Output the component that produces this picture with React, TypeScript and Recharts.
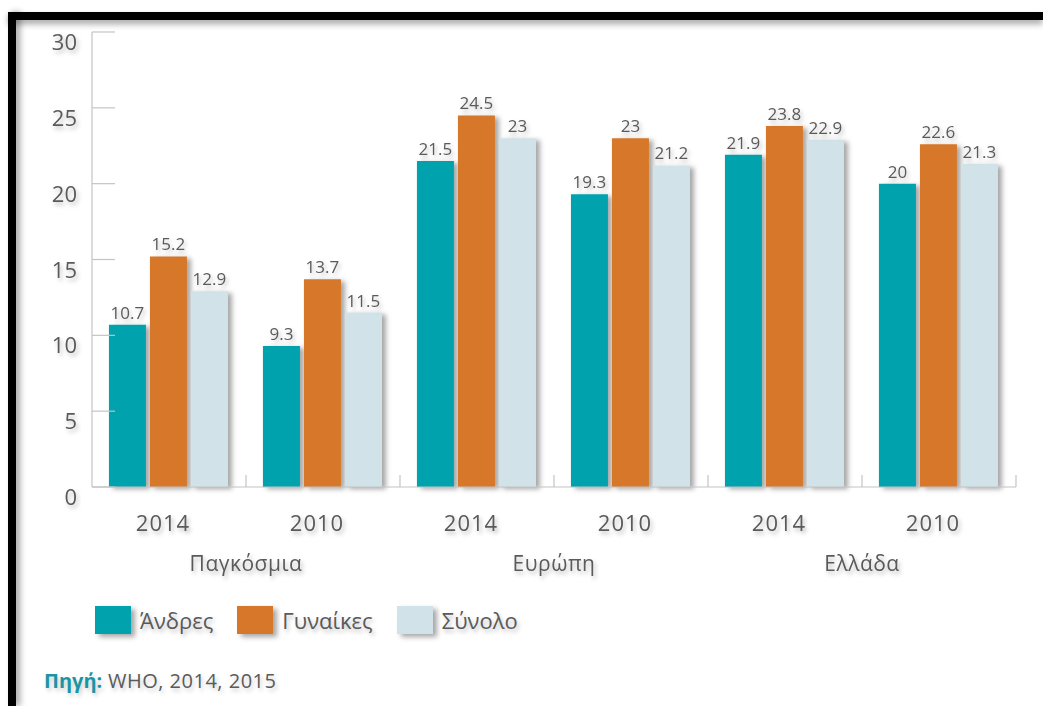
import React from 'react';
import { BarChart, Bar, XAxis, YAxis, LabelList } from 'recharts';

const years = ['2014', '2010', '2014', '2010', '2014', '2010'];
const regions = ['Παγκόσμια', 'Παγκόσμια', 'Ευρώπη', 'Ευρώπη', 'Ελλάδα', 'Ελλάδα'];
const men = [10.7, 9.3, 21.5, 19.3, 21.9, 20];
const women = [15.2, 13.7, 24.5, 23, 23.8, 22.6];
const total = [12.9, 11.5, 23, 21.2, 22.9, 21.3];
const yTicks = [0, 5, 10, 15, 20, 25, 30];

const seriesNames = ['Άνδρες', 'Γυναίκες', 'Σύνολο'];
const seriesColors = ['#00a2ae', '#d6772a', '#d1e3e8'];

const data = years.map((year, i) => ({
  key: i,
  year,
  region: regions[i],
  men: men[i],
  women: women[i],
  total: total[i],
}));

const FONT = '"Open Sans", "Noto Sans", sans-serif';
const TEXT = '#5a5a5a';
const AXIS = '#c4c4c4';

// chart geometry
const W = 1043;
const H = 600;
const M = { top: 32, right: 27, left: 0, bottom: 18 };
const Y_W = 92;
const HALF_BAND = (W - M.right - Y_W) / years.length / 2;

const YTick = (props: any) => {
  const { x, y, payload } = props;
  return (
    <g>
      <line x1={x} x2={x + 23} y1={y} y2={y} stroke={AXIS} strokeWidth={1.2} />
      <text x={x - 15} y={y + 9} textAnchor="end" dominantBaseline="central" fill={TEXT}
        fontSize={22} fontFamily={FONT} filter="url(#txtShadow)">
        {payload.value}
      </text>
    </g>
  );
};

const YearTick = (props: any) => {
  const { x, y, payload } = props;
  return (
    <g>
      <line x1={x + HALF_BAND} x2={x + HALF_BAND} y1={y} y2={y - 12} stroke={AXIS} strokeWidth={1.2} />
      <text x={x - 6} y={y + 35} textAnchor="middle" dominantBaseline="central" fill={TEXT}
        fontSize={22} fontFamily={FONT} letterSpacing={1} filter="url(#txtShadow)">
        {payload.value}
      </text>
    </g>
  );
};

const RegionTick = (props: any) => {
  const { x, y, payload } = props;
  return (
    <text x={x} y={y + 26} textAnchor="middle" dominantBaseline="central" fill={TEXT}
      fontSize={21} fontFamily={FONT} letterSpacing={0.5} filter="url(#txtShadow)">
      {payload.value}
    </text>
  );
};

export default function App() {
  const keys = ['men', 'women', 'total'];
  return (
    <div style={{ position: 'absolute', left: 0, top: 0, width: 1043, height: 706, background: '#fff', overflow: 'hidden', fontFamily: FONT }}>
      <svg width={0} height={0} style={{ position: 'absolute' }}>
        <defs>
          <filter id="barShadow" x="-20%" y="-10%" width="150%" height="130%">
            <feDropShadow dx={4} dy={2} stdDeviation={2.5} floodColor="#000" floodOpacity={0.35} />
          </filter>
          <filter id="txtShadow" x="-20%" y="-40%" width="150%" height="200%">
            <feDropShadow dx={2} dy={3} stdDeviation={2} floodColor="#000" floodOpacity={0.25} />
          </filter>
        </defs>
      </svg>

      {/* black frame */}
      <div style={{ position: 'absolute', left: 8, top: 12, width: 1035, height: 8, background: '#000', boxShadow: '0 4px 6px rgba(0,0,0,0.35)' }} />
      <div style={{ position: 'absolute', left: 8, top: 12, width: 8, height: 694, background: '#000', boxShadow: '4px 0 6px rgba(0,0,0,0.35)' }} />

      <div style={{ position: 'absolute', left: 0, top: 0 }}>
        <BarChart width={W} height={H} data={data} margin={M} barCategoryGap="11%" barGap={4}>
          <XAxis xAxisId={0} dataKey="year" height={50} interval={0} tickSize={0} tickMargin={0}
            stroke={AXIS} strokeWidth={1.2} tickLine={false} tick={<YearTick />} />
          <XAxis xAxisId={1} dataKey="region" allowDuplicatedCategory={false} height={45}
            axisLine={false} tickLine={false} tickSize={0} tickMargin={0} interval={0} tick={<RegionTick />} />
          <YAxis domain={[0, 30]} ticks={yTicks} width={Y_W} tickSize={0} tickMargin={0}
            stroke={AXIS} strokeWidth={1.2} tickLine={false} tick={<YTick />} interval={0} />
          {keys.map((k, i) => (
            <Bar key={k} xAxisId={0} dataKey={k} name={seriesNames[i]} fill={seriesColors[i]}
              filter="url(#barShadow)" isAnimationActive={false}>
              <LabelList dataKey={k} position="top" offset={6} fill={TEXT} fontSize={17}
                fontFamily={FONT} filter="url(#txtShadow)" />
            </Bar>
          ))}
        </BarChart>
      </div>

      {/* legend */}
      <div style={{ position: 'absolute', left: 95, top: 605, display: 'flex', alignItems: 'center' }}>
        {seriesNames.map((n, i) => (
          <div key={n} style={{ display: 'flex', alignItems: 'center', marginRight: 24 }}>
            <div style={{ width: 36, height: 28, background: seriesColors[i], boxShadow: '4px 3px 5px rgba(0,0,0,0.35)' }} />
            <span style={{ marginLeft: 9, fontSize: 22, color: TEXT, textShadow: '2px 3px 4px rgba(0,0,0,0.25)' }}>{n}</span>
          </div>
        ))}
      </div>

      {/* source */}
      <div style={{ position: 'absolute', left: 44, top: 667, fontSize: 20, color: TEXT, letterSpacing: 0.5, textShadow: '2px 3px 4px rgba(0,0,0,0.2)' }}>
        <span style={{ color: '#1a95a3', fontWeight: 700, letterSpacing: 0 }}>Πηγή:</span> WHO, 2014, 2015
      </div>
    </div>
  );
}
